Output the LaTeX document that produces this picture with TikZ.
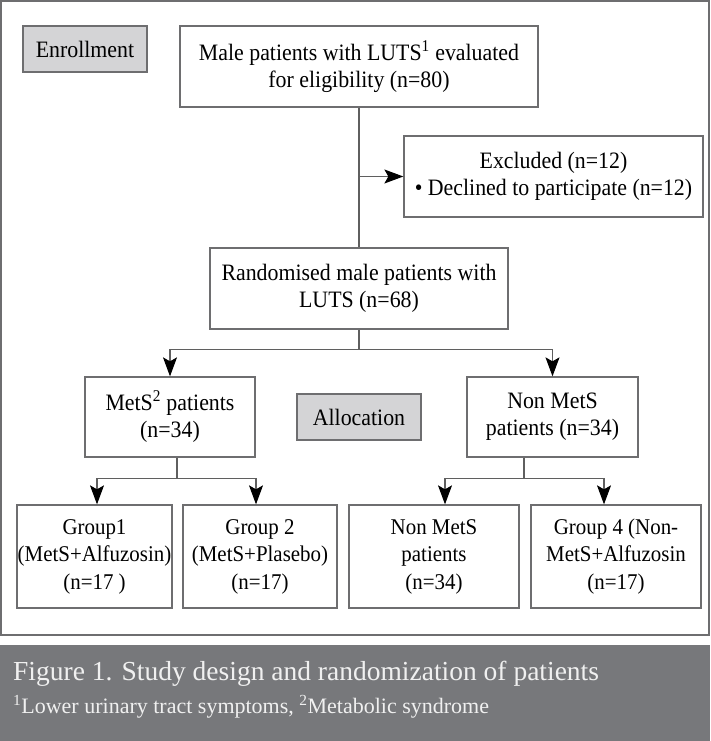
\documentclass[tikz,border=0pt]{standalone}
\usepackage{fontspec}
\setmainfont{Liberation Serif}
\newfontfamily\boxfont{Liberation Serif}[FakeStretch=0.93]
\usetikzlibrary{positioning, arrows.meta, calc}
\definecolor{framegray}{RGB}{110,110,112}
\definecolor{stagegray}{RGB}{212,212,214}
\definecolor{captiongray}{RGB}{119,120,123}
\definecolor{linkgray}{RGB}{95,95,95}
\tikzset{
    box/.style={draw=framegray, line width=1.3pt, fill=white, align=center,
        inner sep=0pt, font=\boxfont\fontsize{23.5}{27}\selectfont},
    groupbox/.style={box, font=\boxfont\fontsize{22.5}{27.5}\selectfont},
    stagebox/.style={box, fill=stagegray},
    link/.style={draw=linkgray, line width=1.1pt},
    arrow/.style={link, -{Stealth[length=19pt, width=14pt, inset=4pt, color=black]}}
}

\begin{document}
\begin{tikzpicture}[x=1pt, y=-1pt]
        \useasboundingbox (0,0) rectangle (710,741);
        \draw[framegray, line width=1.3pt] (1,1) rectangle (709,635);

        % Enrollment
        \node[stagebox, minimum width=124, minimum height=46] (enroll) at (85,49) {Enrollment};
        \node[box, minimum width=358, minimum height=81] (screen) at (359,66.5)
            {Male patients with LUTS\textsuperscript{1} evaluated\\for eligibility (n=80)};
        \node[box, minimum width=299, minimum height=81] (excl) at (553.5,176.5)
            {Excluded (n=12)\\\textbullet{} Declined to participate (n=12)};
        \node[box, minimum width=298, minimum height=81] (rand) at (359,288.5)
            {Randomised male patients with\\LUTS (n=68)};

        % Allocation
        \node[box, minimum width=170, minimum height=80] (mets) at (170,417)
            {MetS\textsuperscript{2} patients\\(n=34)};
        \node[stagebox, minimum width=124, minimum height=46] (alloc) at (359,417) {Allocation};
        \node[box, minimum width=171, minimum height=80] (nonmets) at (552.5,417)
            {Non MetS\\patients (n=34)};

        % Groups
        \node[groupbox, minimum width=155, minimum height=103] (g1) at (94.5,556.5)
            {Group1\\(MetS+Alfuzosin)\\(n=17 )};
        \node[groupbox, minimum width=154, minimum height=103] (g2) at (260,556.5)
            {Group 2\\(MetS+Plasebo)\\(n=17)};
        \node[groupbox, minimum width=170, minimum height=103] (g3) at (434,556.5)
            {Non MetS\\patients\\(n=34)};
        \node[groupbox, minimum width=170, minimum height=103] (g4) at (616,556.5)
            {Group 4 (Non-\\MetS+Alfuzosin\\(n=17)};

        % Connectors
        \draw[link] (screen) -- (rand);
        \draw[arrow] (screen.south |- excl.west) -- (excl.west);
        \draw[link] (rand.south) -- ++(0,20) coordinate (split);
        \draw[arrow] (split) -| (mets);
        \draw[arrow] (split) -| (nonmets);
        \draw[link] ([xshift=7]mets.south) -- ++(0,21) coordinate (splitmets);
        \draw[arrow] (splitmets) -| ([xshift=2.5]g1.north);
        \draw[arrow] (splitmets) -| ([xshift=-4]g2.north);
        \draw[link] ([xshift=-28.5]nonmets.south) -- ++(0,21) coordinate (splitnon);
        \draw[arrow] (splitnon) -| ([xshift=11]g3.north);
        \draw[arrow] (splitnon) -| ([xshift=-12]g4.north);

        % Caption
        \fill[captiongray] (0,645) rectangle (710,741);
        \node[anchor=base west, inner sep=0pt, text=white!94!black, font=\fontsize{27.5}{30}\selectfont]
            (title) at (13,680) {Figure 1. Study design and randomization of patients};
        \node[anchor=base west, inner sep=0pt, text=white!94!black, font=\fontsize{22}{24}\selectfont]
            (notes) at (13,713) {\textsuperscript{1}Lower urinary tract symptoms, \textsuperscript{2}Metabolic syndrome};
\end{tikzpicture}
\end{document}
